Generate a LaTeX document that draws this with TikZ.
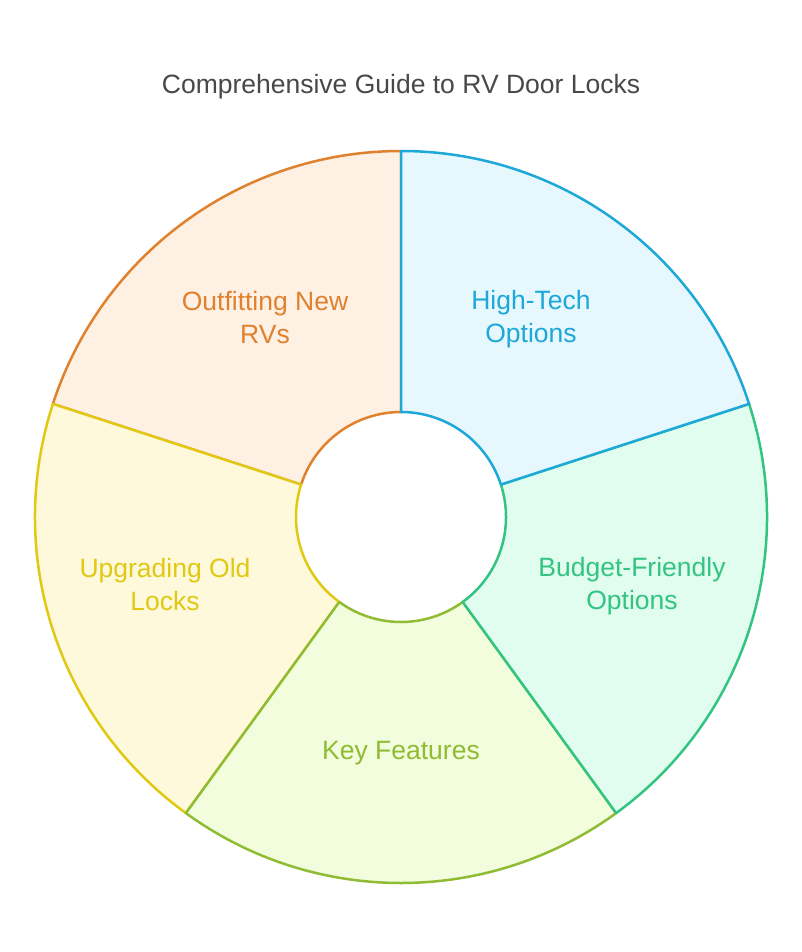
\documentclass[tikz,border=0pt]{standalone}
\usepackage{fontspec}
\setmainfont{Liberation Sans}

\definecolor{titlegray}{HTML}{484848}
\definecolor{htechline}{HTML}{1DA8D8}
\definecolor{htechfill}{HTML}{E6F7FE}
\definecolor{budgetline}{HTML}{33C481}
\definecolor{budgetfill}{HTML}{E0FDEF}
\definecolor{keyfline}{HTML}{8FBC32}
\definecolor{keyffill}{HTML}{F1FDDD}
\definecolor{upgrline}{HTML}{E1C813}
\definecolor{upgrfill}{HTML}{FEF9DB}
\definecolor{outfline}{HTML}{E0812E}
\definecolor{outffill}{HTML}{FEF0E3}

\tikzset{
  segment/.style={
    draw=#1line,
    fill=#1fill,
    line width=2.5pt,
    line join=round
  },
  sectortext/.style={
    text=#1line,
    font=\fontsize{26.5}{33}\selectfont,
    align=center,
    anchor=center
  },
}

\begin{document}
\begin{tikzpicture}[x=1pt, y=1pt]
  \useasboundingbox (0, 0) rectangle (802, -952);
  \node[font=\fontsize{26.5}{30}\selectfont, text=titlegray] (title) at (401, -87) {Comprehensive Guide to RV Door Locks};
  \begin{scope}[shift={(401, -517)}]
    \foreach \a/\c in {90/outf, 162/upgr, -126/keyf, -54/budget, 18/htech}
      \draw[segment=\c] (\a:366) arc[start angle=\a, end angle=\a+72, radius=366]
        -- (\a+72:105) arc[start angle=\a+72, end angle=\a, radius=105] -- cycle;
    \node[sectortext=htech] (htech) at (130, 198) {High-Tech\\Options};
    \node[sectortext=budget] (budget) at (231, -69) {Budget-Friendly\\Options};
    \node[sectortext=keyf] (keyf) at (0, -236) {Key Features};
    \node[sectortext=upgr] (upgr) at (-236, -68) {Upgrading Old\\Locks};
    \node[sectortext=outf] (outf) at (-136, 199) {Outfitting New\\RVs};
  \end{scope}
\end{tikzpicture}
\end{document}
